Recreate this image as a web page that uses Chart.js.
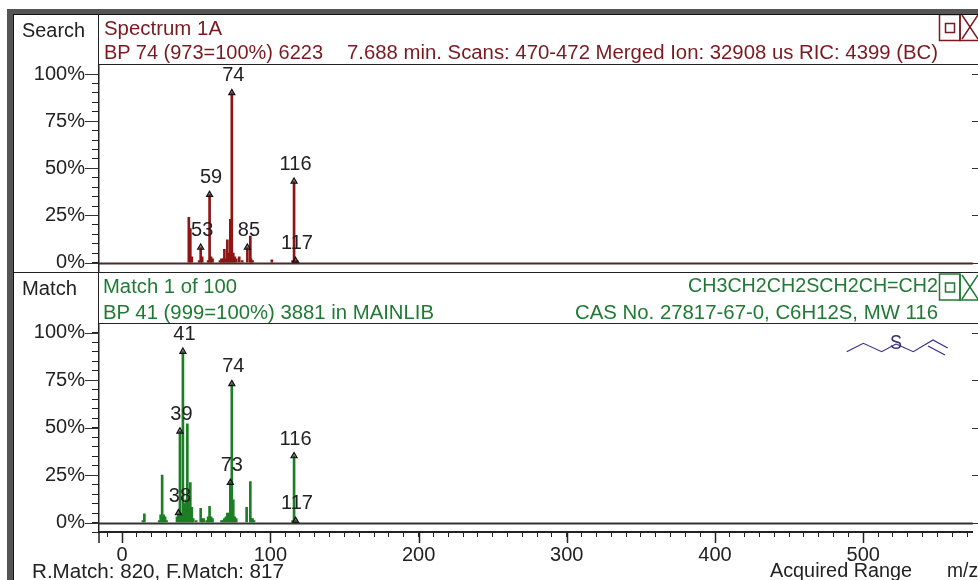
<!DOCTYPE html>
<html><head><meta charset="utf-8">
<script src="https://cdn.jsdelivr.net/npm/chart.js@4/dist/chart.umd.min.js"></script>
<style>
html,body{margin:0;padding:0;background:#fff;width:978px;height:580px;overflow:hidden}
#stage{position:relative;width:978px;height:580px;overflow:hidden;font-family:"Liberation Sans",Arial,sans-serif}
canvas{position:absolute;left:0;top:0}
.t{position:absolute;white-space:pre;line-height:1;transform-origin:0 50%}
.b{position:absolute;background:#222}
svg{position:absolute;left:0;top:0}
</style></head><body>
<div id="stage">
<canvas id="top" width="978" height="580"></canvas>
<canvas id="bot" width="978" height="580"></canvas>
<svg width="978" height="580" id="ov">
  <g fill="none" stroke="#7a1a20" stroke-width="1.5">
    <rect x="939.5" y="14.5" width="20.5" height="26"/><rect x="945.5" y="23.5" width="9" height="9"/>
    <path d="M960 14.5V40.5H978M962 15L978 39M962 39L978 15"/>
  </g>
  <g fill="none" stroke="#1f7a34" stroke-width="1.5">
    <rect x="939.5" y="274" width="20.5" height="26"/><rect x="945.5" y="283" width="9" height="9"/>
    <path d="M960 274V300H978M962 275L978 299M962 299L978 275"/>
  </g>
  <g fill="none" stroke="#35308a" stroke-width="1.2">
    <path d="M846.7 351.7L863.3 343.3L881.7 351.7L896 344"/>
    <path d="M896 344L913.3 351.7L933 340L947.7 348"/>
    <path d="M928 346L945 355"/>
  </g>
</svg>
<div class="b" style="left:7px;top:9px;width:6px;height:571px;background:#555"></div>
<div class="b" style="left:7px;top:9px;width:971px;height:5px;background:#555"></div>
<div class="b" style="left:13px;top:14px;width:965px;height:1px;background:#111"></div>
<div class="b" style="left:13px;top:14px;width:1px;height:566px;background:#111"></div>
<div class="b" style="left:98px;top:14px;width:1px;height:310px"></div>
<div class="b" style="left:99px;top:64px;width:879px;height:1px"></div>
<div class="b" style="left:14px;top:272px;width:964px;height:1px"></div>
<div class="b" style="left:99px;top:323px;width:879px;height:1px"></div>
</div>
<script>
// Reference values
const spectrumMz  = [45,46,47,52,53,54,58,59,60,61,66,67,68,69,70,71,72,73,74,75,76,77,79,81,84.5,86.5,87,88,101,115,116,117,118];
const spectrumPct = [24,18,3,1,8,3,1,36,3,2,1,2,2,7,2,12,5,23,90,5,3,2,3,1,8,14,2,1,1.5,1,43,1,1];
const spectrumPeakMz = [53,59,74,84.5,116,117];
const spectrumPeakPct = [8,36,90,8,43,1];
const spectrumPeakLabels = ["53","59","74","85","116","117"];

const matchMz  = [14,15,25,26,27,28,29,30,37,38,39,40,41,42,43,44,45,46,47,48,50,53,54,55,57,58,59,60,61,67,68,69,70,71,72,73,74,75,76,77,84,86.5,87,88,89,115,116,117];
const matchPct = [1,4.5,1,4,25,4,3,1,3,5,48,5,90,10,12,52,13,21,8,2,1,7.5,2,2,1,3,8.5,3,2,1,1,2,3,5,5,21,73,12,3,2,8,21.5,2,2,1,1,35,1];
const matchPeakMz = [38,39,41,73,74,116,117];
const matchPeakPct = [5,48,90,21,73,35,1];
const matchPeakLabels = ["38","39","41","73","74","116","117"];

const mzTickLabels = [0,100,200,300,400,500];
const pctTickLabels = [0,25,50,75,100];

const texts = [
 ["Search",22,85,30,"#222"],
 ["Spectrum 1A",104,222,28,"#7a1a20"],
 ["BP 74 (973=100%) 6223",104,323,52,"#7a1a20"],
 ["7.688 min. Scans: 470-472 Merged Ion: 32908 us RIC: 4399 (BC)",347,938,52,"#7a1a20"],
 ["Match",22,77,288,"#222"],
 ["Match 1 of 100",103,237,286,"#1f7a34"],
 ["BP 41 (999=100%) 3881 in MAINLIB",103,434,312,"#1f7a34"],
 ["CH3CH2CH2SCH2CH=CH2",688,938,285,"#1f7a34"],
 ["CAS No. 27817-67-0, C6H12S, MW 116",575,938,312,"#1f7a34"],
 ["S",890,902,342,"#3a2f6a"],
 ["R.Match: 820, F.Match: 817",32,284,571,"#222"],
 ["Acquired Range",770,912,570,"#222"],
 ["m/z",947,978,570,"#222"]
];
const stage = document.getElementById('stage');
texts.forEach(([s,l,r,cy,c])=>{
  const d=document.createElement('div');d.className='t';d.textContent=s;
  d.style.cssText+=`left:${l}px;top:${cy-10}px;font-size:20px;color:${c};height:20px`;
  stage.appendChild(d);
  const w=d.getBoundingClientRect().width;
  d.style.transform=`scaleX(${(r-l)/w})`;
});

Chart.defaults.font.family='"Liberation Sans",Arial,sans-serif';
Chart.defaults.font.size=20;
Chart.defaults.color='#222';
Chart.defaults.animation=false;

const decor = {
  id:'decor',
  afterDatasetsDraw(chart,args,opts){
    const c=chart.ctx,x=chart.scales.x,y=chart.scales.y,a=chart.chartArea;
    c.save();
    // zero line
    c.strokeStyle=opts.baseColor;c.lineWidth=2;
    c.beginPath();c.moveTo(x.left,Math.round(y.getPixelForValue(0))+0.5);c.lineTo(a.right,Math.round(y.getPixelForValue(0))+0.5);c.stroke();
    // long and mirrored ticks at labelled percent values
    c.strokeStyle='#333';c.lineWidth=1;
    pctTickLabels.forEach(v=>{
      const p=Math.round(y.getPixelForValue(v))+0.5;
      c.beginPath();c.moveTo(85,p);c.lineTo(a.left,p);c.moveTo(972,p);c.lineTo(978,p);c.stroke();
    });
    // peak labels
    const d=chart.data.datasets[1];
    c.fillStyle='#222';c.font='20px "Liberation Sans"';c.textAlign='center';c.textBaseline='middle';
    opts.labels.forEach((t,i)=>{
      const px=x.getPixelForValue(d.data[i].x),py=y.getPixelForValue(d.data[i].y);
      c.fillText(t,px+1.5,py-17);
    });
    if(opts.xAxis){
      c.strokeStyle='#222';c.lineWidth=1.5;c.beginPath();
      mzTickLabels.forEach(v=>{const p=Math.round(x.getPixelForValue(v))+0.5;c.moveTo(p,a.bottom);c.lineTo(p,a.bottom+11);});
      c.moveTo(a.left,a.bottom);c.lineTo(a.left,a.bottom+11);
      c.stroke();
    }
    c.restore();
  }
};

function build(id,mz,pct,peakMz,peakPct,labels,color,baseColor,yMax,padTop,padBottom,showX){
  new Chart(document.getElementById(id),{
    type:'bar',
    data:{datasets:[
      {type:'bar',data:mz.map((m,i)=>({x:m,y:pct[i]})),backgroundColor:color,barThickness:2,base:0,order:2},
      {type:'scatter',data:peakMz.map((m,i)=>({x:m,y:peakPct[i]})),pointStyle:'triangle',pointRadius:3.5,pointBackgroundColor:'rgba(60,60,60,.55)',pointBorderColor:'#111',pointBorderWidth:1.2,order:1}
    ]},
    options:{
      responsive:false,maintainAspectRatio:false,
      layout:{padding:{top:padTop,bottom:padBottom,left:0,right:0}},
      plugins:{legend:{display:false},tooltip:{enabled:false},decor:{labels,baseColor,xAxis:showX}},
      scales:{
        x:{type:'linear',min:-15.6,max:573.9,offset:false,display:showX,
           afterFit(s){s.height=showX?48:0;},
           grid:{display:true,drawOnChartArea:false,drawTicks:true,tickLength:5,tickColor:'#222',offset:false},
           border:{display:true,color:'#222',width:2},
           ticks:{stepSize:10,autoSkip:false,maxRotation:0,minRotation:0,includeBounds:false,padding:6,
             callback:v=>mzTickLabels.includes(v)?String(v):''}},
        y:{type:'linear',min:-5,max:yMax,
           afterFit(s){s.width=99;},
           grid:{display:true,drawOnChartArea:false,tickLength:7,tickColor:'#222'},
           border:{display:true,color:'#222',width:1.5},
           ticks:{stepSize:5,autoSkip:false,includeBounds:false,padding:7,
             callback:v=>pctTickLabels.includes(v)?v+'%':''}}
      }
    },
    plugins:[decor]
  });
}
build('top',spectrumMz,spectrumPct,spectrumPeakMz,spectrumPeakPct,spectrumPeakLabels,'#8f1414','#4a2a2a',104.8,65,308,false);
build('bot',matchMz,matchPct,matchPeakMz,matchPeakPct,matchPeakLabels,'#1c7f26','#333',104.5,324,0,true);
</script>
</body></html>
